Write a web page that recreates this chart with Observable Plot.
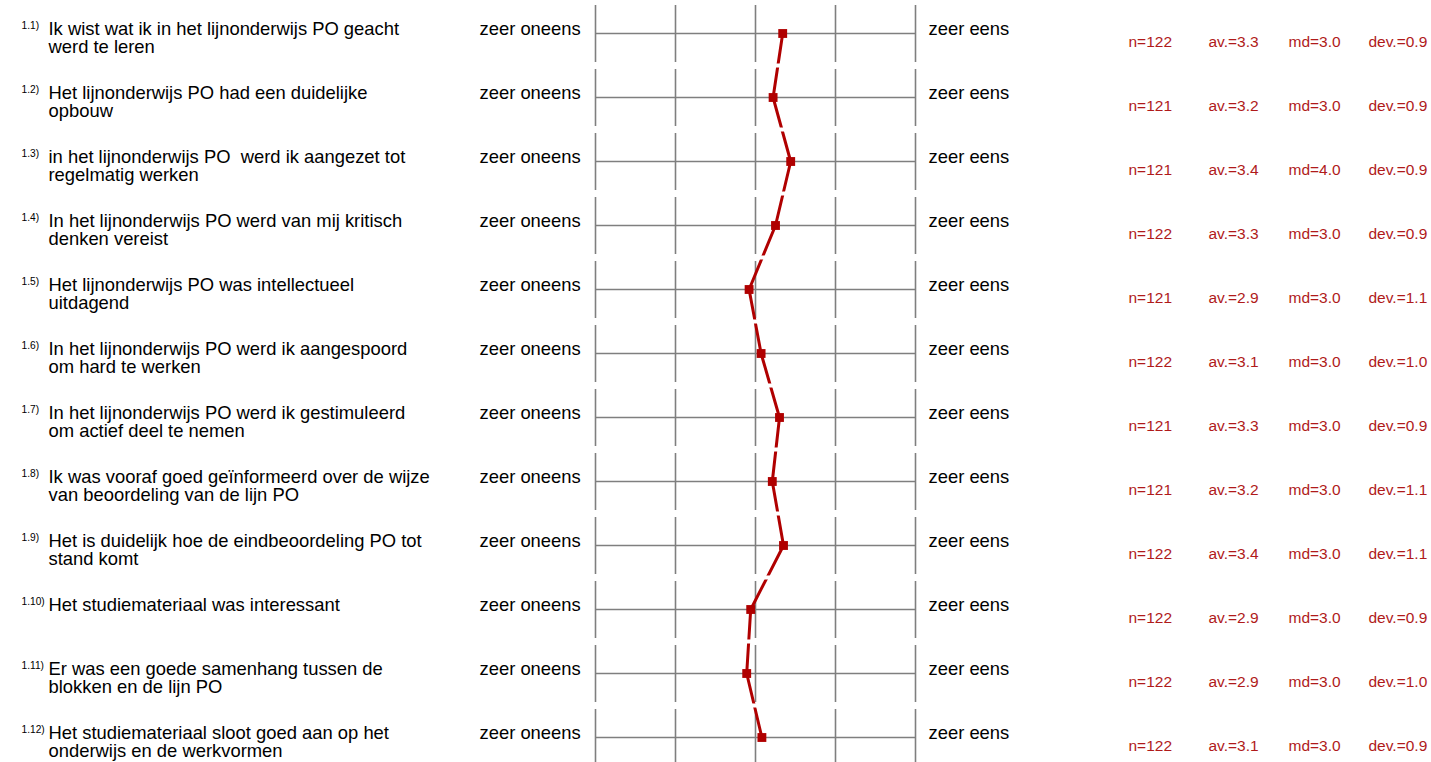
<!DOCTYPE html>
<html><head><meta charset="utf-8">
<script src="https://cdn.jsdelivr.net/npm/d3@7"></script>
<script src="https://cdn.jsdelivr.net/npm/@observablehq/plot@0.6"></script>
<style>html,body{margin:0;padding:0;background:#fff;} #chart svg{display:block;}</style>
</head><body><div id="chart"></div>
<script>
const codes = ["1.1)","1.2)","1.3)","1.4)","1.5)","1.6)","1.7)","1.8)","1.9)","1.10)","1.11)","1.12)"];
const questions = [
  "Ik wist wat ik in het lijnonderwijs PO geacht\nwerd te leren",
  "Het lijnonderwijs PO had een duidelijke\nopbouw",
  "in het lijnonderwijs PO  werd ik aangezet tot\nregelmatig werken",
  "In het lijnonderwijs PO werd van mij kritisch\ndenken vereist",
  "Het lijnonderwijs PO was intellectueel\nuitdagend",
  "In het lijnonderwijs PO werd ik aangespoord\nom hard te werken",
  "In het lijnonderwijs PO werd ik gestimuleerd\nom actief deel te nemen",
  "Ik was vooraf goed geïnformeerd over de wijze\nvan beoordeling van de lijn PO",
  "Het is duidelijk hoe de eindbeoordeling PO tot\nstand komt",
  "Het studiemateriaal was interessant",
  "Er was een goede samenhang tussen de\nblokken en de lijn PO",
  "Het studiemateriaal sloot goed aan op het\nonderwijs en de werkvormen"
];
const means = [3.34, 3.22, 3.44, 3.25, 2.92, 3.07, 3.30, 3.21, 3.35, 2.94, 2.89, 3.08];
const nValues = [122, 121, 121, 122, 121, 122, 121, 121, 122, 122, 122, 122];
const avValues = [3.3, 3.2, 3.4, 3.3, 2.9, 3.1, 3.3, 3.2, 3.4, 2.9, 2.9, 3.1];
const mdValues = [3.0, 3.0, 4.0, 3.0, 3.0, 3.0, 3.0, 3.0, 3.0, 3.0, 3.0, 3.0];
const devValues = [0.9, 0.9, 0.9, 0.9, 1.1, 1.0, 0.9, 1.1, 1.1, 0.9, 1.0, 0.9];
const scalePoints = [1, 2, 3, 4, 5];
const leftPole = "zeer oneens";
const rightPole = "zeer eens";

const rows = codes.map((code, i) => ({
  i, code, question: questions[i], mean: means[i],
  n: nValues[i], av: avValues[i], md: mdValues[i], dev: devValues[i]
}));
const ticks = rows.flatMap(r => scalePoints.map(x => ({i: r.i, x})));
const gaps = rows.slice(1).map(r => ({y: r.i - 0.5}));

const FS = 18.4, LH = 1.03, STAT = 15.5;
const grid = "#7f7f7f", red = "#b00000", statRed = "#b01a1a";
const rowPx = 64;

const chart = Plot.plot({
  width: 1431, height: 762,
  marginLeft: 595, marginRight: 516, marginTop: 33, marginBottom: 25,
  x: {domain: [1, 5], axis: null},
  y: {domain: [0, 11], reverse: true, axis: null},
  style: {fontFamily: "'Liberation Sans', Arial, Helvetica, sans-serif", background: "white", color: "black"},
  marks: [
    Plot.ruleY(rows, {y: "i", x1: 1, x2: 5, stroke: grid, strokeWidth: 1.6}),
    Plot.ruleX(ticks, {x: "x", y1: d => d.i - 28 / rowPx, y2: d => d.i + 29 / rowPx, stroke: grid, strokeWidth: 1.6}),
    Plot.line(rows, {x: "mean", y: "i", stroke: red, strokeWidth: 3}),
    Plot.ruleY(gaps, {y: "y", x1: 1, x2: 5, stroke: "white", strokeWidth: 4}),
    Plot.dot(rows, {x: "mean", y: "i", symbol: "square", r: 5, fill: red, stroke: "none"}),
    Plot.text(rows, {y: "i", text: "code", frameAnchor: "left", textAnchor: "start", lineAnchor: "bottom", dx: 21 - 595, dy: -5, fontSize: 10.2}),
    Plot.text(rows, {y: "i", text: "question", frameAnchor: "left", textAnchor: "start", lineAnchor: "top", lineHeight: LH, dx: 48 - 595, dy: 1 - 0.71 * LH * FS, fontSize: FS}),
    Plot.text(rows, {y: "i", text: () => leftPole, frameAnchor: "left", textAnchor: "start", lineAnchor: "bottom", dx: -116, dy: 1, fontSize: FS}),
    Plot.text(rows, {y: "i", text: () => rightPole, frameAnchor: "right", textAnchor: "start", lineAnchor: "bottom", dx: 13, dy: 1, fontSize: FS}),
    Plot.text(rows, {y: "i", text: d => `n=${d.n}`, frameAnchor: "right", textAnchor: "start", lineAnchor: "bottom", dx: 213, dy: 13, fontSize: STAT, fill: statRed}),
    Plot.text(rows, {y: "i", text: d => `av.=${d.av.toFixed(1)}`, frameAnchor: "right", textAnchor: "start", lineAnchor: "bottom", dx: 293, dy: 13, fontSize: STAT, fill: statRed}),
    Plot.text(rows, {y: "i", text: d => `md=${d.md.toFixed(1)}`, frameAnchor: "right", textAnchor: "start", lineAnchor: "bottom", dx: 373, dy: 13, fontSize: STAT, fill: statRed}),
    Plot.text(rows, {y: "i", text: d => `dev.=${d.dev.toFixed(1)}`, frameAnchor: "right", textAnchor: "start", lineAnchor: "bottom", dx: 453, dy: 13, fontSize: STAT, fill: statRed})
  ]
});
document.getElementById("chart").appendChild(chart);
</script>
</body></html>
